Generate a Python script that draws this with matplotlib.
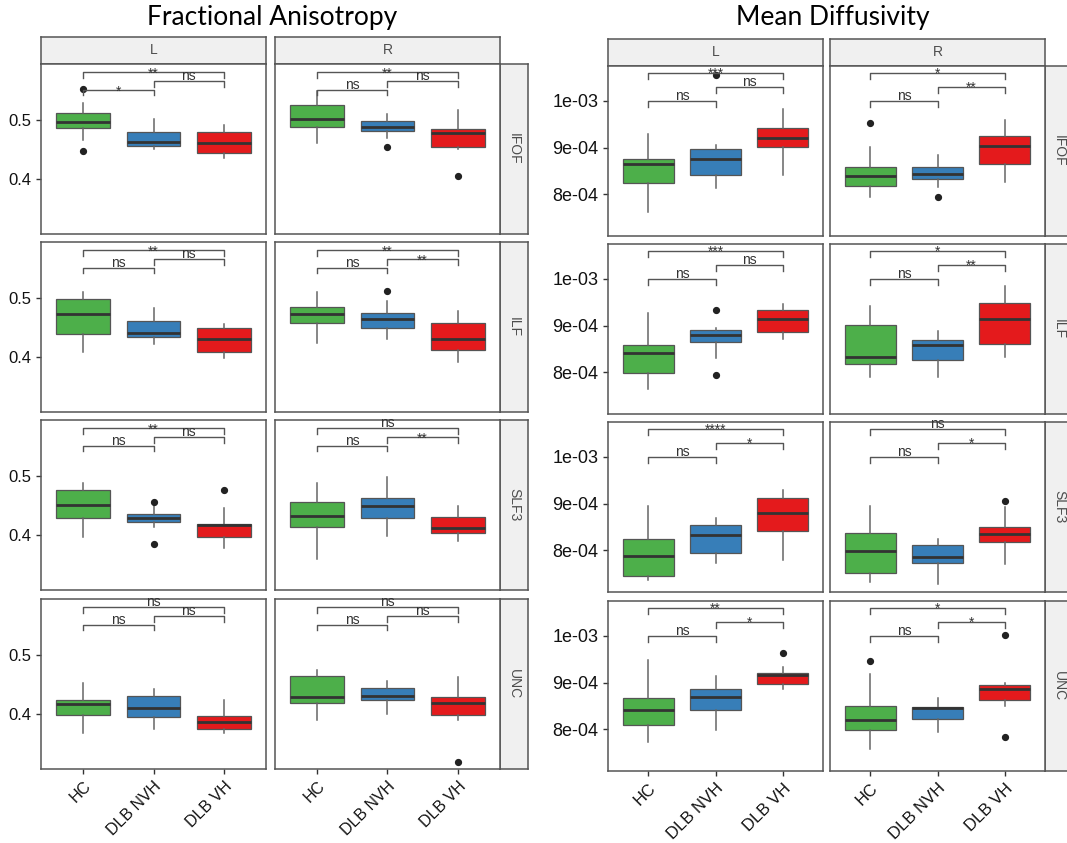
import matplotlib.pyplot as plt

plt.rcParams['font.family'] = ['Liberation Sans', 'DejaVu Sans']

groups = ['HC', 'DLB NVH', 'DLB VH']
tracts = ['IFOF', 'ILF', 'SLF3', 'UNC']
sides = ['L', 'R']
colors = ['#4DAF4A', '#377EB8', '#E41A1C']
pairs = [(1, 2), (2, 3), (1, 3)]

# Fractional anisotropy, indexed [tract][side][group]
fa_q1 = [[[0.486, 0.455, 0.444], [0.488, 0.481, 0.454]],
         [[0.438, 0.434, 0.408], [0.458, 0.448, 0.411]],
         [[0.428, 0.421, 0.396], [0.413, 0.428, 0.403]],
         [[0.398, 0.395, 0.374], [0.419, 0.424, 0.398]]]
fa_med = [[[0.496, 0.463, 0.461], [0.501, 0.487, 0.478]],
          [[0.472, 0.440, 0.431], [0.473, 0.464, 0.431]],
          [[0.450, 0.428, 0.417], [0.432, 0.448, 0.411]],
          [[0.417, 0.410, 0.386], [0.428, 0.430, 0.418]]]
fa_q3 = [[[0.511, 0.479, 0.479], [0.524, 0.498, 0.484]],
         [[0.498, 0.460, 0.448], [0.485, 0.474, 0.458]],
         [[0.476, 0.435, 0.419], [0.456, 0.463, 0.430]],
         [[0.424, 0.431, 0.397], [0.464, 0.444, 0.428]]]
fa_lo = [[[0.465, 0.450, 0.436], [0.461, 0.469, 0.451]],
         [[0.409, 0.421, 0.398], [0.423, 0.431, 0.391]],
         [[0.396, 0.414, 0.378], [0.359, 0.399, 0.390]],
         [[0.368, 0.374, 0.367], [0.390, 0.400, 0.390]]]
fa_hi = [[[0.529, 0.501, 0.491], [0.548, 0.509, 0.517]],
         [[0.509, 0.482, 0.456], [0.509, 0.494, 0.477]],
         [[0.488, 0.448, 0.445], [0.488, 0.497, 0.448]],
         [[0.453, 0.442, 0.423], [0.474, 0.455, 0.462]]]
fa_out = [[[[0.552, 0.447], [], []], [[], [0.454], [0.405]]],
          [[[], [], []], [[], [0.512], []]],
          [[[], [0.456, 0.385], [0.476]], [[], [], []]],
          [[[], [], []], [[], [], [0.318]]]]
# labels for HC vs NVH, NVH vs VH, HC vs VH
fa_sig = [[['*', 'ns', '**'], ['ns', 'ns', '**']],
          [['ns', 'ns', '**'], ['ns', '**', '**']],
          [['ns', 'ns', '**'], ['ns', '**', 'ns']],
          [['ns', 'ns', 'ns'], ['ns', 'ns', 'ns']]]

# Mean diffusivity, indexed [tract][side][group]
md_q1 = [[[8.24e-4, 8.41e-4, 9.01e-4], [8.18e-4, 8.32e-4, 8.65e-4]],
         [[7.99e-4, 8.64e-4, 8.86e-4], [8.18e-4, 8.26e-4, 8.60e-4]],
         [[7.45e-4, 7.93e-4, 8.40e-4], [7.51e-4, 7.72e-4, 8.17e-4]],
         [[8.08e-4, 8.42e-4, 8.97e-4], [7.99e-4, 8.22e-4, 8.62e-4]]]
md_med = [[[8.65e-4, 8.75e-4, 9.20e-4], [8.39e-4, 8.43e-4, 9.04e-4]],
          [[8.42e-4, 8.80e-4, 9.13e-4], [8.32e-4, 8.59e-4, 9.13e-4]],
          [[7.87e-4, 8.32e-4, 8.80e-4], [7.99e-4, 7.85e-4, 8.35e-4]],
          [[8.42e-4, 8.69e-4, 9.16e-4], [8.19e-4, 8.45e-4, 8.85e-4]]]
md_q3 = [[[8.76e-4, 8.97e-4, 9.42e-4], [8.58e-4, 8.58e-4, 9.24e-4]],
         [[8.58e-4, 8.91e-4, 9.34e-4], [9.01e-4, 8.68e-4, 9.48e-4]],
         [[8.24e-4, 8.53e-4, 9.11e-4], [8.37e-4, 8.10e-4, 8.50e-4]],
         [[8.67e-4, 8.85e-4, 9.20e-4], [8.49e-4, 8.48e-4, 8.95e-4]]]
md_lo = [[[7.61e-4, 8.14e-4, 8.41e-4], [7.94e-4, 8.15e-4, 8.26e-4]],
         [[7.64e-4, 8.31e-4, 8.71e-4], [7.89e-4, 7.89e-4, 8.33e-4]],
         [[7.36e-4, 7.72e-4, 7.78e-4], [7.31e-4, 7.27e-4, 7.70e-4]],
         [[7.73e-4, 7.99e-4, 8.87e-4], [7.57e-4, 7.93e-4, 8.49e-4]]]
md_hi = [[[9.28e-4, 9.06e-4, 9.83e-4], [9.01e-4, 8.83e-4, 9.58e-4]],
         [[9.26e-4, 8.94e-4, 9.46e-4], [9.42e-4, 8.88e-4, 9.85e-4]],
         [[8.94e-4, 8.68e-4, 9.30e-4], [8.94e-4, 8.24e-4, 8.92e-4]],
         [[9.48e-4, 9.13e-4, 9.34e-4], [9.19e-4, 8.67e-4, 9.00e-4]]]
md_out = [[[[], [10.55e-4], []], [[9.53e-4], [7.93e-4], []]],
          [[[], [9.34e-4, 7.94e-4], []], [[], [], []]],
          [[[], [], []], [[], [], [9.06e-4]]],
          [[[], [], [9.63e-4]], [[9.47e-4], [], [10.01e-4, 7.84e-4]]]]
md_sig = [[['ns', 'ns', '***'], ['ns', '**', '*']],
          [['ns', 'ns', '***'], ['ns', '**', '*']],
          [['ns', '*', '****'], ['ns', '*', 'ns']],
          [['ns', '*', '**'], ['ns', '*', '*']]]

W, H = 1067, 843
fig = plt.figure(figsize=(W / 100, H / 100), dpi=100)


def px(x, y, w, h):
    return [x / W, 1 - (y + h) / H, w / W, h / H]


def strip(rect, label, rot=0):
    s = fig.add_axes(px(*rect))
    s.set_facecolor('#F0F0F0')
    s.set_xticks([])
    s.set_yticks([])
    for sp in s.spines.values():
        sp.set_color('#555555')
        sp.set_linewidth(1.1)
    s.text(0.5, 0.5, label, transform=s.transAxes, ha='center', va='center',
           rotation=rot, fontsize=10, color='#4D4D4D')


def facet_grid(q1, med, q3, lo, hi, out, sig, lefts, width, tops, height,
               ylim, yticks, fmt, levels, tick_len, ysize, xsize):
    for c, side in enumerate(sides):
        strip((lefts[c], tops[0] - 27, width, 27), side)
    for r, tract in enumerate(tracts):
        strip((lefts[1] + width, tops[r], 28, height), tract, rot=-90)
        for c in range(2):
            ax = fig.add_axes(px(lefts[c], tops[r], width, height))
            stats = []
            for g in range(3):
                stats.append(dict(med=med[r][c][g], q1=q1[r][c][g], q3=q3[r][c][g],
                                  whislo=lo[r][c][g], whishi=hi[r][c][g],
                                  fliers=out[r][c][g]))
            bp = ax.bxp(stats, positions=[1, 2, 3], widths=0.76, patch_artist=True,
                        showcaps=False,
                        boxprops=dict(edgecolor='#555555', linewidth=0.9),
                        whiskerprops=dict(color='#666666', linewidth=1.1),
                        medianprops=dict(color='#333333', linewidth=2.0),
                        flierprops=dict(marker='o', markersize=4.2,
                                        markerfacecolor='#222222',
                                        markeredgecolor='#222222'))
            for patch, col in zip(bp['boxes'], colors):
                patch.set_facecolor(col)

            for (a, b), lev, lab in zip(pairs, levels, sig[r][c]):
                ax.plot([a, a, b, b], [lev - tick_len, lev, lev, lev - tick_len],
                        color='#555555', lw=1.0)
                dy = 0.8 if lab == 'ns' else -3.8
                ax.annotate(lab, ((a + b) / 2, lev), xytext=(0, dy),
                            textcoords='offset points', ha='center',
                            va='baseline', fontsize=10, color='#333333')

            ax.set_xlim(0.4, 3.6)
            ax.set_ylim(*ylim)
            ax.set_yticks(yticks)
            ax.set_xticks([1, 2, 3])
            ax.tick_params(colors='#333333', length=3.5, width=1.0,
                           labelcolor='#111111')
            ax.tick_params(axis='y', labelsize=ysize)
            ax.tick_params(axis='x', labelsize=xsize)
            if c == 0:
                ax.set_yticklabels([fmt(v) for v in yticks])
            else:
                ax.tick_params(axis='y', length=0, labelleft=False)
            if r == 3:
                ax.set_xticklabels(groups, rotation=45, ha='right',
                                   rotation_mode='anchor')
            else:
                ax.tick_params(axis='x', length=0, labelbottom=False)
            for sp in ax.spines.values():
                sp.set_color('#555555')
                sp.set_linewidth(1.1)


facet_grid(fa_q1, fa_med, fa_q3, fa_lo, fa_hi, fa_out, fa_sig,
           lefts=[41, 275], width=225, tops=[64, 242, 420, 599], height=170,
           ylim=(0.307, 0.594), yticks=[0.4, 0.5], fmt=lambda v: f'{v:.1f}',
           levels=[0.550, 0.565, 0.580], tick_len=0.009, ysize=12, xsize=11.5)

facet_grid(md_q1, md_med, md_q3, md_lo, md_hi, md_out, md_sig,
           lefts=[608, 830], width=215, tops=[66, 244, 422, 601], height=170,
           ylim=(7.1e-4, 10.75e-4), yticks=[8e-4, 9e-4, 1e-3],
           fmt=lambda v: f'{v:.0e}',
           levels=[10.0e-4, 10.3e-4, 10.6e-4], tick_len=0.12e-4,
           ysize=13, xsize=12)

fig.text(272 / W, 1 - 18 / H, 'Fractional Anisotropy', ha='center', va='center',
         fontsize=19, family='Lato')
fig.text(833 / W, 1 - 18 / H, 'Mean Diffusivity', ha='center', va='center',
         fontsize=19, family='Lato')

fig.savefig('out.png', dpi=100)
